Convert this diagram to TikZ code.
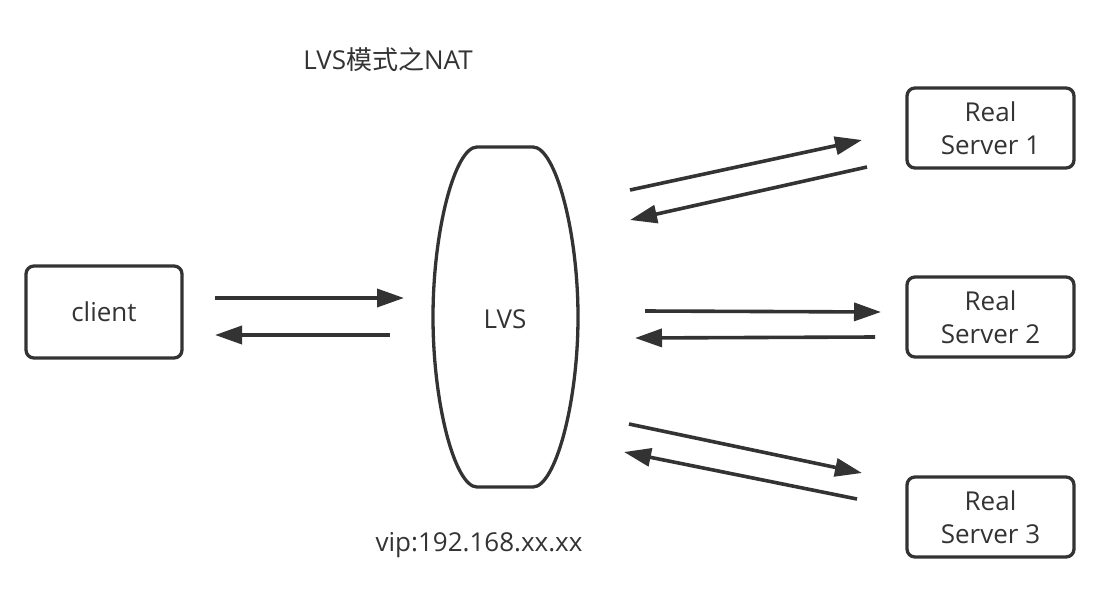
\documentclass[tikz,border=0pt]{standalone}
\usepackage{fontspec}
\setmainfont{Open Sans}
\newfontfamily\cjk{Noto Sans CJK SC}
\usetikzlibrary{arrows.meta}
\definecolor{ink}{HTML}{333333}
\tikzset{
  box/.style={draw=ink, line width=3.3pt, rounded corners=8pt, text=ink,
    align=center, inner sep=0pt, font=\fontsize{26}{33}\selectfont},
  lbl/.style={text=ink, inner sep=0pt, font=\fontsize{26}{33}\selectfont},
  flow/.style={draw=ink, line width=3.6pt, -{Triangle[length=27pt,width=18pt]}},
}
\begin{document}
\begin{tikzpicture}[x=1pt,y=-1pt]
\useasboundingbox (0,0) rectangle (1107,597);
% title
\node[lbl] (title) at (388,60) {LVS{\cjk 模式之}NAT};
% client
\node[box, minimum width=156pt, minimum height=92pt] (client) at (104,312) {client};
% LVS shape
\draw[draw=ink, line width=3.3pt] (477,147) -- (533,147)
  .. controls (555,147) and (578,230) .. (578,317)
  .. controls (578,404) and (555,487) .. (533,487)
  -- (477,487)
  .. controls (455,487) and (433,404) .. (433,317)
  .. controls (433,230) and (455,147) .. (477,147) -- cycle;
\node[lbl] (lvs) at (505,319) {LVS};
% vip
\node[lbl] (vip) at (479,545) {vip:192.168.xx.xx};
% real servers
\node[box, minimum width=167pt, minimum height=80pt] (rs1) at (990.5,128) {Real\\Server 1};
\node[box, minimum width=167pt, minimum height=80pt] (rs2) at (990.5,317) {Real\\Server 2};
\node[box, minimum width=167pt, minimum height=80pt] (rs3) at (990.5,517) {Real\\Server 3};
% arrow end points
\coordinate (c1s) at (215,298); \coordinate (c1e) at (404,298);
\coordinate (c2s) at (390,335); \coordinate (c2e) at (215,335);
\coordinate (a1s) at (630,190); \coordinate (a1e) at (862,140);
\coordinate (b1s) at (867,167); \coordinate (b1e) at (630,220);
\coordinate (a2s) at (645,311); \coordinate (a2e) at (881,312);
\coordinate (b2s) at (875,337); \coordinate (b2e) at (635,338);
\coordinate (a3s) at (629,424); \coordinate (a3e) at (862,473);
\coordinate (b3s) at (857,499); \coordinate (b3e) at (624,452);
% arrows
\draw[flow] (c1s) -- (c1e);
\draw[flow] (c2s) -- (c2e);
\draw[flow] (a1s) -- (a1e);
\draw[flow] (b1s) -- (b1e);
\draw[flow] (a2s) -- (a2e);
\draw[flow] (b2s) -- (b2e);
\draw[flow] (a3s) -- (a3e);
\draw[flow] (b3s) -- (b3e);
\end{tikzpicture}
\end{document}
